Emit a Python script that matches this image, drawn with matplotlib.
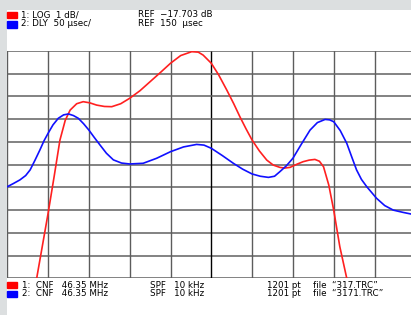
import matplotlib.pyplot as plt

# trace data in screen divisions (x: 0..10, y: 0..10 from the bottom)
red_x = [0.72, 1.0, 1.15, 1.29, 1.42, 1.54, 1.70, 1.86, 2.02, 2.19, 2.38, 2.56, 2.78, 3.0, 3.25, 3.5,
         3.75, 4.0, 4.25, 4.52, 4.68, 4.80, 5.0, 5.18, 5.38, 5.55, 5.70, 5.85, 6.0, 6.18, 6.36, 6.52,
         6.68, 6.80, 6.93, 7.10, 7.25, 7.40, 7.54, 7.65, 7.75, 7.88, 8.0, 8.15, 8.32]
red_y = [0.0, 2.86, 4.5, 6.08, 6.95, 7.4, 7.68, 7.77, 7.72, 7.62, 7.56, 7.55, 7.68, 7.92, 8.25, 8.65,
         9.05, 9.46, 9.80, 9.97, 9.95, 9.82, 9.46, 8.95, 8.28, 7.68, 7.11, 6.58, 6.08, 5.60, 5.2, 4.98,
         4.88, 4.85, 4.88, 5.02, 5.13, 5.20, 5.23, 5.15, 4.91, 4.1, 3.0, 1.39, 0.0]

blue_x = [0.0, 0.15, 0.31, 0.45, 0.56, 0.68, 0.80, 0.90, 1.0, 1.12, 1.25, 1.38, 1.50, 1.62, 1.74, 1.87,
          2.0, 2.13, 2.27, 2.43, 2.60, 2.80, 3.0, 3.33, 3.66, 4.0, 4.32, 4.64, 4.82, 5.0, 5.27, 5.54,
          5.77, 6.0, 6.20, 6.40, 6.55, 6.68, 6.84, 7.0, 7.20, 7.42, 7.60, 7.79, 7.90, 8.0, 8.16, 8.32,
          8.44, 8.56, 8.68, 8.81, 9.05, 9.25, 9.46, 9.70, 9.89]
blue_y = [4.03, 4.17, 4.33, 4.52, 4.77, 5.2, 5.65, 6.05, 6.38, 6.75, 7.04, 7.19, 7.23, 7.16, 7.04, 6.80,
          6.52, 6.20, 5.87, 5.50, 5.21, 5.07, 5.03, 5.06, 5.28, 5.57, 5.78, 5.89, 5.86, 5.72, 5.40, 5.06,
          4.80, 4.59, 4.49, 4.44, 4.49, 4.69, 4.95, 5.28, 5.88, 6.52, 6.85, 6.99, 6.97, 6.89, 6.50, 5.94,
          5.35, 4.77, 4.35, 4.03, 3.52, 3.20, 3.0, 2.90, 2.83]

top_left = ["1: LOG  1 dB/", "2: DLY  50 \u00b5sec/"]
top_ref = ["REF  \u221217.703 dB", "REF  150  \u00b5sec"]
bot_cnf = ["1:  CNF   46.35 MHz", "2:  CNF   46.35 MHz"]
bot_spf = ["SPF   10 kHz", "SPF   10 kHz"]
bot_pts = ["1201 pt", "1201 pt"]
bot_file = ["file  \u201c317.TRC\u201d", "file  \u201c3171.TRC\u201d"]
colors = ["#ff0000", "#0000ff"]

W, H = 411, 315
fig = plt.figure(figsize=(W / 100, H / 100), dpi=100)
fig.patch.set_facecolor("#dcdfe0")

# white panel
bg = fig.add_axes([7 / W, 0, 1 - 7 / W, (H - 10) / H])
bg.set_facecolor("white")
bg.set_xticks([])
bg.set_yticks([])
for s in bg.spines.values():
    s.set_visible(False)

# grid area: 40.8 px per x division, 22.73 px per y division
x0, ytop, ybot = 7.3, 51.0, 278.3
ax = fig.add_axes([x0 / W, (H - ybot) / H, (W - x0) / W, (ybot - ytop) / H])
ax.set_facecolor("none")
ax.set_xlim(0, (W - x0) / 40.8)
ax.set_ylim(0, 10)
ax.set_xticks([])
ax.set_yticks([])
for s in ax.spines.values():
    s.set_visible(False)
for i in range(11):
    ax.axhline(i, color="#606060", lw=1.1, zorder=1)
    ax.axvline(i, color="#000000" if i == 5 else "#5c5c5c", lw=1.0, zorder=1)

ax.plot(red_x, red_y, color="#ff2020", lw=1.2, zorder=3)
ax.plot(blue_x, blue_y, color="#1010ff", lw=1.2, zorder=3)

fs = 6.3
for i in range(2):
    yt = H - (14.5 + 9.5 * i)
    fig.patches.append(plt.Rectangle((7 / W, (yt - 3.5) / H), 10 / W, 6 / H,
                                     transform=fig.transFigure, color=colors[i], zorder=5))
    fig.text(21 / W, yt / H, top_left[i], fontsize=fs, va="center", ha="left")
    fig.text(138 / W, yt / H, top_ref[i], fontsize=fs, va="center", ha="left")

    yb = H - (285 + 9 * i)
    fig.patches.append(plt.Rectangle((7 / W, (yb - 3) / H), 10 / W, 6 / H,
                                     transform=fig.transFigure, color=colors[i], zorder=5))
    fig.text(22 / W, yb / H, bot_cnf[i], fontsize=fs, va="center", ha="left")
    fig.text(150 / W, yb / H, bot_spf[i], fontsize=fs, va="center", ha="left")
    fig.text(267 / W, yb / H, bot_pts[i], fontsize=fs, va="center", ha="left")
    fig.text(313 / W, yb / H, bot_file[i], fontsize=fs, va="center", ha="left")

fig.savefig("out.png", dpi=100)
